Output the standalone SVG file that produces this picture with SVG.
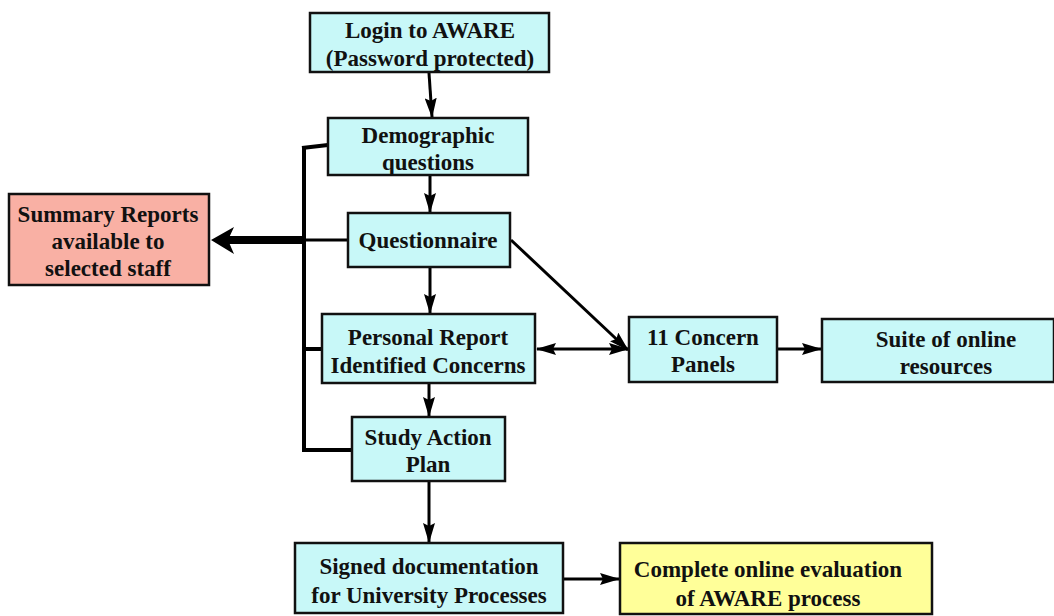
<svg xmlns="http://www.w3.org/2000/svg" width="1054" height="616" viewBox="0 0 1054 616">
<defs>
<marker id="ah" markerWidth="20" markerHeight="12" refX="19" refY="6" orient="auto" markerUnits="userSpaceOnUse">
<path d="M0,0 L20,6 L0,12 L3,6 Z" fill="#000"/>
</marker>
<marker id="ahs" markerWidth="20" markerHeight="12" refX="1" refY="6" orient="auto" markerUnits="userSpaceOnUse">
<path d="M20,0 L0,6 L20,12 L17,6 Z" fill="#000"/>
</marker>
</defs>
<style>
.n{stroke:#111;stroke-width:2.5}
.c{fill:#C8F8F8}
.t{font-family:"Liberation Serif","Times New Roman",serif;font-weight:bold;font-size:23px;fill:#111;text-anchor:middle}
.e{stroke:#000;stroke-width:3;fill:none}
</style>
<rect width="1054" height="616" fill="#fff"/>
<g id="connectors">
<line class="e" x1="429" y1="73" x2="432" y2="117" marker-end="url(#ah)"/>
<line class="e" x1="430" y1="176" x2="430" y2="212" marker-end="url(#ah)"/>
<line class="e" x1="430" y1="268" x2="430" y2="313" marker-end="url(#ah)"/>
<line class="e" x1="429" y1="384" x2="429" y2="416" marker-end="url(#ah)"/>
<line class="e" x1="429" y1="482" x2="429" y2="542" marker-end="url(#ah)"/>
<line class="e" x1="511" y1="240" x2="628" y2="350" marker-end="url(#ah)"/>
<line class="e" x1="537" y1="349" x2="628" y2="349" marker-start="url(#ahs)" marker-end="url(#ah)"/>
<line class="e" x1="778" y1="349" x2="821" y2="349" marker-end="url(#ah)"/>
<line class="e" x1="564" y1="579" x2="619" y2="579" marker-end="url(#ah)"/>
<path d="M304,148 L304,450" stroke="#000" stroke-width="4" fill="none"/>
<path d="M302,148 L328,145" stroke="#000" stroke-width="4" fill="none"/>
<path d="M304,240 L348,240" class="e"/>
<path d="M302,349 L322,349" stroke="#000" stroke-width="4" fill="none"/>
<path d="M302,450 L352,450" stroke="#000" stroke-width="4" fill="none"/>
<path d="M306,240 L228,240" stroke="#000" stroke-width="8" fill="none"/>
<path d="M211,240 L234,227 L228,240 L234,254 Z" fill="#000"/>
</g>
<g id="login">
<rect class="n c" x="310" y="13" width="239" height="59"/>
<text class="t" x="430" y="38">Login to AWARE</text>
<text class="t" x="430" y="66">(Password protected)</text>
</g>
<g id="demographic">
<rect class="n c" x="328" y="118" width="200" height="57"/>
<text class="t" x="428" y="143">Demographic</text>
<text class="t" x="428" y="170">questions</text>
</g>
<g id="questionnaire">
<rect class="n c" x="348" y="213" width="162" height="54"/>
<text class="t" x="428" y="248">Questionnaire</text>
</g>
<g id="summary">
<rect class="n" fill="#F9B0A4" x="9" y="194" width="200" height="91"/>
<text class="t" x="108" y="222">Summary Reports</text>
<text class="t" x="108" y="249">available to</text>
<text class="t" x="108" y="276">selected staff</text>
</g>
<g id="personal">
<rect class="n c" x="322" y="314" width="213" height="69"/>
<text class="t" x="428" y="345">Personal Report</text>
<text class="t" x="428" y="373">Identified Concerns</text>
</g>
<g id="study">
<rect class="n c" x="352" y="417" width="153" height="64"/>
<text class="t" x="428" y="445">Study Action</text>
<text class="t" x="428" y="472">Plan</text>
</g>
<g id="concern">
<rect class="n c" x="629" y="317" width="148" height="65"/>
<text class="t" x="703" y="345">11 Concern</text>
<text class="t" x="703" y="372">Panels</text>
</g>
<g id="suite">
<rect class="n c" x="822" y="319" width="232" height="63"/>
<text class="t" x="946" y="347">Suite of online</text>
<text class="t" x="946" y="374">resources</text>
</g>
<g id="signed">
<rect class="n c" x="295" y="543" width="268" height="70"/>
<text class="t" x="429" y="574">Signed documentation</text>
<text class="t" x="429" y="603">for University Processes</text>
</g>
<g id="complete">
<rect class="n" fill="#FFFF99" x="620" y="543" width="312" height="71"/>
<text class="t" x="768" y="577">Complete online evaluation</text>
<text class="t" x="768" y="606">of AWARE process</text>
</g>
</svg>
